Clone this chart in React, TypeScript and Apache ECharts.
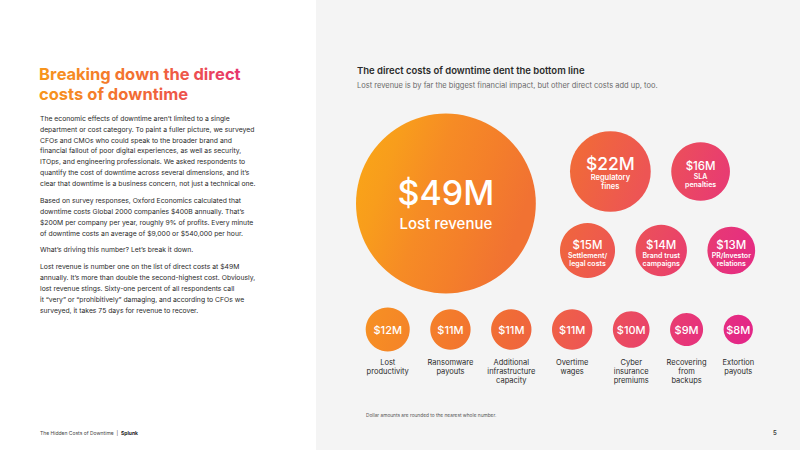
import React, { useEffect, useRef } from "react";
import * as echarts from "echarts";

// Headline costs (in $M) shown as labelled bubbles in the upper cluster
const featuredNames = [
  "Lost revenue",
  "Regulatory\nfines",
  "SLA\npenalties",
  "Settlement/\nlegal costs",
  "Brand trust\ncampaigns",
  "PR/Investor\nrelations",
];
const featuredValues = [49, 22, 16, 15, 14, 13];

// Remaining costs (in $M) shown in the bottom row with captions underneath
const otherNames = [
  "Lost\nproductivity",
  "Ransomware\npayouts",
  "Additional\ninfrastructure\ncapacity",
  "Overtime\nwages",
  "Cyber\ninsurance\npremiums",
  "Recovering\nfrom\nbackups",
  "Extortion\npayouts",
];
const otherValues = [12, 11, 11, 11, 10, 9, 8];

const bodyParagraphs = [
  [
    "The economic effects of downtime aren\u2019t limited to a single",
    "department or cost category. To paint a fuller picture, we surveyed",
    "CFOs and CMOs who could speak to the broader brand and",
    "financial fallout of poor digital experiences, as well as security,",
    "ITOps, and engineering professionals. We asked respondents to",
    "quantify the cost of downtime across several dimensions, and it\u2019s",
    "clear that downtime is a business concern, not just a technical one.",
  ],
  [
    "Based on survey responses, Oxford Economics calculated that",
    "downtime costs Global 2000 companies $400B annually. That\u2019s",
    "$200M per company per year, roughly 9% of profits. Every minute",
    "of downtime costs an average of $9,000 or $540,000 per hour.",
  ],
  ["What\u2019s driving this number? Let\u2019s break it down."],
  [
    "Lost revenue is number one on the list of direct costs at $49M",
    "annually. It\u2019s more than double the second-highest cost. Obviously,",
    "lost revenue stings. Sixty-one percent of all respondents call",
    "it \u201cvery\u201d or \u201cprohibitively\u201d damaging, and according to CFOs we",
    "surveyed, it takes 75 days for revenue to recover.",
  ],
];

const headingLines = ["Breaking down the direct", "costs of downtime"];

const FONT = "Inter, 'Noto Sans', sans-serif";
const W = 800;
const H = 450;
const PX_PER_M = 3.67; // bubble diameter per $1M
const GAP = 20.5; // space between neighbouring bubbles in a row

// Rows of the upper cluster: indices into featured arrays, left edge, centre line
const featuredRows = [
  { items: [0], left: 356, cy: 203.5 },
  { items: [1, 2], left: 570, cy: 171.5 },
  { items: [3, 4, 5], left: 560, cy: 250.5 },
];
const bottomRow = { left: 365.7, cy: 329.5 };

type Stop = [number, number[]];
function lerpStops(stops: Stop[], t: number): string {
  if (t <= stops[0][0]) t = stops[0][0];
  for (let i = 1; i < stops.length; i++) {
    const [t1, c1] = stops[i];
    const [t0, c0] = stops[i - 1];
    if (t <= t1 || i === stops.length - 1) {
      const f = Math.min(1, Math.max(0, (t - t0) / (t1 - t0)));
      const c = c0.map((v, k) => Math.round(v + (c1[k] - v) * f));
      return `rgb(${c[0]},${c[1]},${c[2]})`;
    }
  }
  return "#000";
}

// Warm ramp running from amber on the left to magenta on the right
const rampStops: Stop[] = [
  [300, [250, 168, 22]],
  [370, [246, 142, 36]],
  [450, [243, 122, 44]],
  [512, [240, 106, 56]],
  [574, [238, 90, 78]],
  [633, [234, 72, 99]],
  [689, [231, 54, 120]],
  [743, [228, 40, 134]],
  [820, [222, 28, 148]],
];
const SLOPE = 0.35;
function bubbleFill(cx: number, cy: number, d: number) {
  const l = cx - d / 2;
  const top = cy - d / 2;
  const stops = [0, 0.25, 0.5, 0.75, 1].map((f) => {
    const x = l + d * f;
    const y = top + d * SLOPE * f;
    return { offset: f, color: lerpStops(rampStops, x + SLOPE * (y - 330)) };
  });
  return new echarts.graphic.LinearGradient(0, 0, 1, SLOPE, stops);
}

// Heading colour sweeps orange to pink across the first line's width
const headingStops: Stop[] = [
  [0, [247, 150, 28]],
  [0.5, [242, 108, 52]],
  [1, [231, 52, 110]],
];
const HEADING_WIDTH = 201;
function headingRich(line: string, lineWidth: number) {
  const rich: Record<string, any> = {};
  let text = "";
  const n = line.length;
  for (let i = 0; i < n; i++) {
    const key = "c" + i;
    const frac = ((i + 0.5) / n) * (lineWidth / HEADING_WIDTH);
    rich[key] = {
      fill: lerpStops(headingStops, frac),
      font: `700 16.5px ${FONT}`,
    };
    text += `{${key}|${line[i]}}`;
  }
  return { text, rich };
}

function packRow(values: number[], left: number) {
  let x = left;
  return values.map((v) => {
    const d = v * PX_PER_M;
    const cx = x + d / 2;
    x += d + GAP;
    return cx;
  });
}

function labelTier(d: number) {
  if (d >= 150) return { vs: 34, vl: 39, ns: 15, nl: 23, nw: 500, dy: 0.5 };
  if (d >= 70) return { vs: 17.5, vl: 19.7, ns: 7.5, nl: 8.7, nw: 600, dy: 0.5 };
  return { vs: 11.5, vl: 14.5, ns: 7, nl: 7.7, nw: 600, dy: 2 };
}

export default function App() {
  const ref = useRef<HTMLDivElement>(null);

  useEffect(() => {
    if (!ref.current) return;
    const chart = echarts.init(ref.current, undefined, { renderer: "svg" });

    const featuredData: any[] = [];
    featuredRows.forEach((row) => {
      const vals = row.items.map((i) => featuredValues[i]);
      const xs = packRow(vals, row.left);
      row.items.forEach((idx, k) => {
        const v = featuredValues[idx];
        const d = v * PX_PER_M;
        const tier = labelTier(d);
        featuredData.push({
          name: featuredNames[idx],
          value: [xs[k], row.cy, v],
          itemStyle: { color: bubbleFill(xs[k], row.cy, d), opacity: 1 },
          label: {
            offset: [0, tier.dy],
            rich: {
              v: {
                fontSize: tier.vs,
                lineHeight: tier.vl,
                fontWeight: 500,
                color: "#fff",
                fontFamily: FONT,
              },
              n: {
                fontSize: tier.ns,
                lineHeight: tier.nl,
                fontWeight: tier.nw,
                color: "#fff",
                fontFamily: FONT,
              },
            },
          },
        });
      });
    });

    const bottomXs = packRow(otherValues, bottomRow.left);
    const otherData = otherValues.map((v, i) => ({
      name: otherNames[i],
      value: [bottomXs[i], bottomRow.cy, v],
      itemStyle: {
        color: bubbleFill(bottomXs[i], bottomRow.cy, v * PX_PER_M),
        opacity: 1,
      },
    }));

    const bodyTexts: any[] = [];
    const paraTops = [118.3, 200.7, 249.3, 266.7];
    const BODY_LH = 10.85;
    bodyParagraphs.forEach((lines, p) => {
      bodyTexts.push({
        type: "text",
        x: 40,
        y: paraTops[p] - BODY_LH / 2,
        style: {
          text: lines.join("\n"),
          font: `400 6.8px ${FONT}`,
          lineHeight: BODY_LH,
          fill: "#2a2a2a",
          align: "left",
          verticalAlign: "top",
        },
      });
    });

    const h1 = headingRich(headingLines[0], 201);
    const h2 = headingRich(headingLines[1], 147);

    chart.setOption({
      animation: false,
      backgroundColor: "#ffffff",
      grid: { left: 0, right: 0, top: 0, bottom: 0 },
      xAxis: { type: "value", min: 0, max: W, show: false },
      yAxis: { type: "value", min: 0, max: H, inverse: true, show: false },
      graphic: [
        {
          type: "rect",
          z: -10,
          shape: { x: 316, y: 0, width: W - 316, height: H },
          style: { fill: "#f4f4f4" },
        },
        {
          type: "text",
          x: 39,
          y: 73.5,
          style: { text: h1.text, rich: h1.rich, verticalAlign: "middle" },
        },
        {
          type: "text",
          x: 39,
          y: 93.5,
          style: { text: h2.text, rich: h2.rich, verticalAlign: "middle" },
        },
        ...bodyTexts,
        {
          type: "text",
          x: 357,
          y: 70.7,
          style: {
            text: "The direct costs of downtime dent the bottom line",
            font: `600 9.5px ${FONT}`,
            fill: "#2b2b2b",
            verticalAlign: "middle",
          },
        },
        {
          type: "text",
          x: 357,
          y: 85,
          style: {
            text: "Lost revenue is by far the biggest financial impact, but other direct costs add up, too.",
            font: `400 7.5px ${FONT}`,
            fill: "#6a6a6a",
            verticalAlign: "middle",
          },
        },
        {
          type: "text",
          x: 366,
          y: 415,
          style: {
            text: "Dollar amounts are rounded to the nearest whole number.",
            font: `400 4.8px ${FONT}`,
            fill: "#555",
            verticalAlign: "middle",
          },
        },
        {
          type: "text",
          x: 40,
          y: 432.7,
          style: {
            text: "{a|The Hidden Costs of Downtime  |  }{b|Splunk}",
            rich: {
              a: { font: `400 5px ${FONT}`, fill: "#444" },
              b: { font: `700 5px ${FONT}`, fill: "#222" },
            },
            verticalAlign: "middle",
          },
        },
        {
          type: "text",
          x: 775,
          y: 432.5,
          style: {
            text: "5",
            font: `600 6px ${FONT}`,
            fill: "#333",
            align: "center",
            verticalAlign: "middle",
          },
        },
      ],
      series: [
        {
          type: "scatter",
          silent: true,
          symbol: "circle",
          symbolSize: (val: number[]) => val[2] * PX_PER_M,
          data: featuredData,
          label: {
            show: true,
            position: "inside",
            formatter: (p: any) =>
              `{v|$${p.value[2]}M}\n{n|${p.name.split("\n").join("}\n{n|")}}`,
          },
        },
        {
          type: "scatter",
          silent: true,
          symbol: "circle",
          symbolSize: (val: number[]) => val[2] * PX_PER_M,
          data: otherData,
          label: {
            show: true,
            position: "inside",
            formatter: (p: any) => `$${p.value[2]}M`,
            color: "#fff",
            fontSize: 11,
            fontWeight: 500,
            fontFamily: FONT,
          },
        },
        {
          type: "scatter",
          silent: true,
          symbol: "circle",
          symbolSize: 1,
          itemStyle: { color: "rgba(0,0,0,0)", opacity: 1 },
          data: otherData.map((d) => ({ name: d.name, value: d.value })),
          label: {
            show: true,
            position: "bottom",
            distance: 28.5,
            formatter: (p: any) => p.name,
            color: "#2a2a2a",
            fontSize: 7.5,
            lineHeight: 8.7,
            fontFamily: FONT,
            align: "center",
          },
        },
      ],
    });

    return () => chart.dispose();
  }, []);

  return (
    <div
      ref={ref}
      style={{ position: "fixed", left: 0, top: 0, width: W, height: H }}
    />
  );
}
